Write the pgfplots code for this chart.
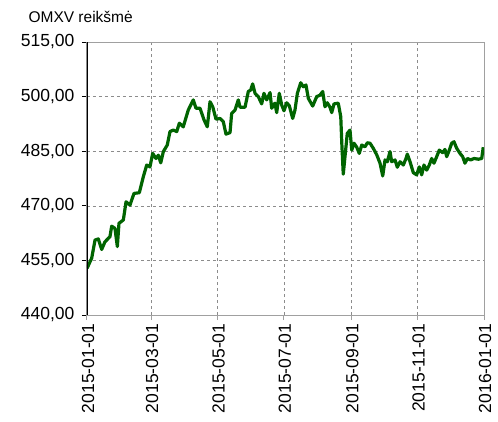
\documentclass[border=0pt]{standalone}
\usepackage{pgfplots}
\pgfplotsset{compat=1.18}
\usepackage{fontspec}
\setmainfont{Liberation Sans}
\definecolor{linegreen}{HTML}{006400}
\definecolor{framegray}{HTML}{A0A0A0}
\definecolor{gridgray}{HTML}{8C8C8C}

\begin{document}
\begin{tikzpicture}
  \begin{axis}[name=ax,
    scale only axis, width=397pt, height=273pt,
    xmin=0, xmax=365, ymin=440, ymax=515,
    xtick={0,59,120,181,243,304,365},
    xticklabels={2015-01-01,2015-03-01,2015-05-01,2015-07-01,2015-09-01,2015-11-01,2016-01-01},
    ytick={440,455,470,485,500,515},
    xtick pos=left, ytick pos=left,
    tick align=outside, major tick length=5pt,
    axis line style={framegray, line width=1pt},
    xtick style={framegray, line width=1pt},
    ytick style={black, line width=1pt},
    grid=major,
    major grid style={gridgray, dashed, line width=0.6pt},
    /pgf/number format/.cd, assume math mode=true, fixed, fixed zerofill, precision=2, use comma, 1000 sep={},
    /pgfplots/.cd,
    ticklabel style={font=\fontsize{17.5}{20}\selectfont},
    yticklabel style={xshift=-4pt},
    xticklabel style={rotate=90, anchor=east, yshift=-1pt},
  ]
    \addplot[linegreen, line width=3.2pt, line join=round] coordinates {
      (0,452.8)(4.3,455.6)(7.4,460.6)(10.4,460.9)(13.5,458.0)(16.5,460.1)
      (21.1,461.5)(22.7,464.4)(25.7,463.8)(27.9,458.8)(29.4,465.2)(33.4,466.1)
      (35.9,471.1)(39.5,470.2)(43.2,473.4)(48.1,473.6)(51.8,478.0)(54.9,481.2)
      (57.9,480.7)(60.4,484.4)(63.4,483.0)(65.6,483.9)(67.8,481.8)(70.2,484.9)
      (73.8,486.7)(76.3,490.4)(79.3,490.8)(82.5,490.4)(84.9,492.7)(88.5,491.7)
      (93.1,496.3)(97.7,499.1)(100.2,496.8)(103.9,496.8)(107.6,493.6)(110.6,491.7)
      (113.1,498.6)(115.6,497.2)(118.6,493.8)(122.3,494.0)(125.3,493.1)(127.8,489.7)
      (131.5,490.1)(133.0,495.4)(136.1,496.3)(139.1,499.1)(140.7,497.1)(145.3,497.1)
      (148.3,501.4)(150.5,501.8)(152.3,503.5)(154.5,500.9)(157.5,500.0)(160.6,498.0)
      (162.7,500.9)(165.2,499.1)(168.3,501.1)(169.8,496.8)(172.8,498.2)(174.4,495.6)
      (176.8,500.9)(179.0,497.7)(181.1,496.1)(183.6,498.3)(186.0,497.5)(189.1,494.0)
      (191.2,496.3)(193.4,500.9)(196.5,503.8)(198.9,502.7)(201.3,503.2)(203.5,499.5)
      (207.5,497.4)(211.2,500.0)(214.2,500.4)(216.7,501.4)(218.8,497.2)(220.9,498.3)
      (223.4,497.1)(225.0,495.6)(227.1,498.0)(231.0,498.2)(233.3,494.5)(234.4,486.2)
      (235.6,478.7)(237.5,484.4)(239.3,489.9)(241.8,490.8)(243.4,485.3)(245.5,487.2)
      (248.0,486.1)(250.3,484.4)(252.6,486.7)(255.6,486.2)(257.7,487.3)(260.2,487.2)
      (263.2,485.8)(266.4,484.0)(269.4,481.7)(271.9,478.2)(274.0,482.6)(276.1,482.1)
      (278.6,484.9)(280.1,482.1)(283.2,482.6)(285.3,480.6)(287.8,482.1)(290.8,481.2)
      (293.3,483.0)(294.5,484.2)(297.0,482.1)(300.0,479.1)(303.1,478.5)(305.5,480.7)
      (307.7,478.5)(309.8,481.2)(312.3,479.8)(314.7,481.2)(316.9,483.0)(319.0,481.7)
      (321.5,483.5)(323.9,485.3)(327.0,484.6)(329.1,485.5)(330.7,483.5)(333.1,485.3)
      (335.3,487.2)(337.4,487.6)(339.9,485.8)(342.9,484.4)(345.4,483.5)(347.5,481.7)
      (349.7,483.0)(352.8,482.6)(355.8,483.0)(359.8,482.8)(362.9,483.0)(364.3,486.1)
    };
    \draw[black, line width=1.6pt] (rel axis cs:0,0) -- (rel axis cs:0,1);
  \end{axis}
  \node[anchor=west, font=\fontsize{15.5}{18}\selectfont] at ([xshift=-62pt, yshift=25pt]ax.north west) {OMXV reikšmė};
  \pgfresetboundingbox
  \path ([xshift=-87pt, yshift=-106pt]ax.south west) rectangle ++(498pt,421pt);
\end{tikzpicture}
\end{document}
